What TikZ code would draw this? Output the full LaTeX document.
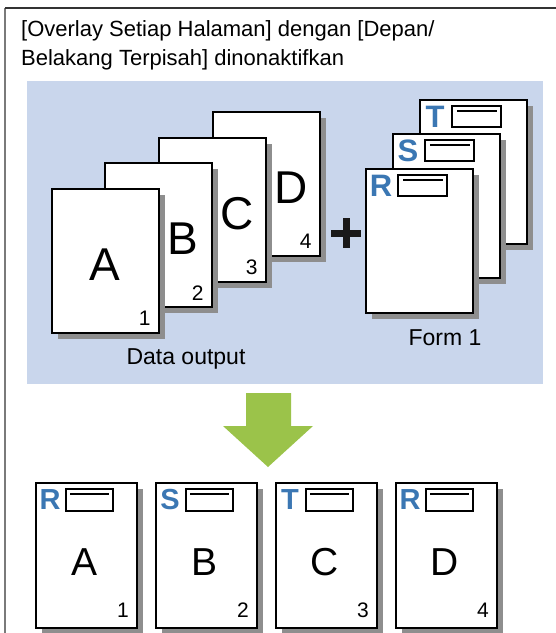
\documentclass[tikz,border=0pt]{standalone}
\usepackage{fontspec}
\setmainfont{Liberation Sans}
\usetikzlibrary{shadows}
\definecolor{BgBlue}{HTML}{C9D6EC}
\definecolor{PageShadow}{HTML}{8E8E8E}
\definecolor{FormBlue}{HTML}{3B77B3}
\definecolor{ArrowGreen}{HTML}{9BC34A}
\definecolor{FrameGray}{HTML}{7A7A7A}
\newcommand{\fsz}[1]{\fontsize{#1}{#1}\selectfont}

\begin{document}
\begin{tikzpicture}[x=1pt,y=-1pt,
  page/.style={draw,fill=white,line width=1.7pt,inner sep=0pt,anchor=north west,
    minimum width=107pt,minimum height=144pt,
    drop shadow={shadow xshift=6pt,shadow yshift=-6pt,fill=PageShadow,opacity=1}},
  bigletter/.style={font=\fsz{46}},
  pagenum/.style={font=\fsz{21}},
  formletter/.style={text=FormBlue,font=\fsz{31}\bfseries,inner sep=0pt},
  formbox/.style={draw,line width=1.7pt,inner sep=0pt,anchor=north west,
    minimum width=49pt,minimum height=21pt},
  caption/.style={font=\fsz{23}}]
  \useasboundingbox (0,0) rectangle (556,633);
  % frame
  \draw[FrameGray,line width=1.5pt] (5,633) -- (5,8);
  \draw[black!80,line width=1.5pt] (5,8) -- (556,8);
  \node[anchor=base west,align=left,inner sep=0pt,font=\fontsize{22}{29}\selectfont] (title) at (21,65)
    {[Overlay Setiap Halaman] dengan [Depan/\\Belakang Terpisah] dinonaktifkan};
  \fill[BgBlue] (27,81) rectangle (543,384);
  % data pages
  \foreach \nm/\x/\y/\lx in {D/212/111/79,C/158/137/79,B/104/162/79,A/51/188/54}{
    \node[page] (pg\nm) at (\x,\y) {};
    \node[bigletter] (let\nm) at (\x+\lx,\y+77) {\nm};
  }
  \node[pagenum] (num1) at ([xshift=-15pt,yshift=15pt]pgA.south east) {1};
  \node[pagenum] (num2) at ([xshift=-15pt,yshift=15pt]pgB.south east) {2};
  \node[pagenum] (num3) at ([xshift=-15pt,yshift=15pt]pgC.south east) {3};
  \node[pagenum] (num4) at ([xshift=-15pt,yshift=15pt]pgD.south east) {4};
  \node[caption] (datacap) at (186,359) {Data output};
  % plus
  \draw[black!90,line width=7pt] (331,233) -- (361,233) (346,218) -- (346,248);
  % form pages
  \foreach \nm/\x/\y in {T/419/99,S/392/133,R/365/168}{
    \node[page] (fm\nm) at (\x,\y) {};
    \node[formletter] (fl\nm) at (\x+16,\y+18) {\nm};
    \node[formbox] (fb\nm) at (\x+32,\y+6) {};
    \draw[line width=1.7pt] ([xshift=6pt,yshift=-6pt]fb\nm.north west) -- ([xshift=-5pt,yshift=-6pt]fb\nm.north east);
  }
  \node[caption] (formcap) at (445,338) {Form 1};
  % arrow
  \fill[ArrowGreen] (246,393) -- (291,393) -- (291,426) -- (313,426) -- (268,467)
    -- (223,426) -- (246,426) -- cycle;
  % output pages
  \foreach \i/\fl/\bl/\n in {0/R/A/1,1/S/B/2,2/T/C/3,3/R/D/4}{
    \node[page,minimum width=101pt,minimum height=145pt] (out\n) at (35+120*\i,482) {};
    \node[formletter,font=\fsz{29}\bfseries] (ofl\n) at (50+120*\i,500) {\fl};
    \node[formbox,minimum width=47pt,minimum height=22pt] (ofb\n) at (65+120*\i,488) {};
    \draw[line width=1.7pt] ([xshift=5pt,yshift=-6pt]ofb\n.north west) -- ([xshift=-5pt,yshift=-6pt]ofb\n.north east);
    \node[bigletter,font=\fsz{39}] (obl\n) at (85+120*\i,562) {\bl};
    \node[pagenum] (onum\n) at (123+120*\i,610) {\n};
  }
\end{tikzpicture}
\end{document}
